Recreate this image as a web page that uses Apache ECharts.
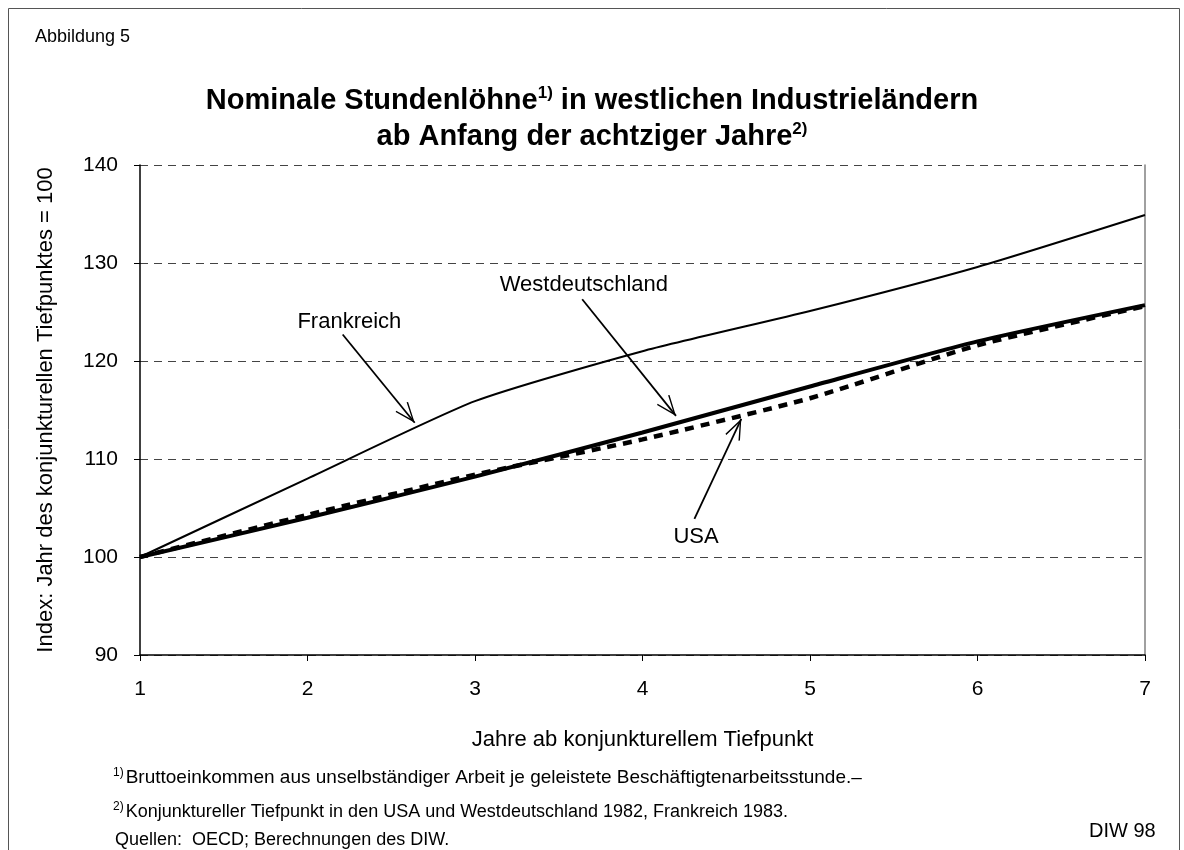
<!DOCTYPE html>
<html>
<head>
<meta charset="utf-8">
<script src="https://cdn.jsdelivr.net/npm/echarts@6/dist/echarts.min.js"></script>
<style>
    html, body { margin: 0; padding: 0; background: #fff; }
    #chart { width: 1184px; height: 850px; }
</style>
</head>
<body>
<div id="chart"></div>
<script>
    // Jahre ab konjunkturellem Tiefpunkt
    const years = [1, 2, 3, 4, 5, 6, 7];
    const xTicks = ['1', '2', '3', '4', '5', '6', '7'];
    // Index: Jahr des konjunkturellen Tiefpunktes = 100
    const frankreich = [100, 108.0, 115.9, 121.0, 125.1, 129.6, 134.9];
    const westdeutschland = [100, 104.0, 108.2, 112.7, 117.4, 122.0, 125.7];
    const usa = [100, 104.3, 108.4, 112.0, 116.2, 121.6, 125.6];

    // Beschriftungen mit Pfeilen (Datenkoordinaten)
    const labelFrankreich = { text: 'Frankreich', at: [2.25, 124.0], from: [2.21, 122.7], to: [2.64, 113.7] };
    const labelWest = { text: 'Westdeutschland', at: [3.65, 127.8], from: [3.64, 126.3], to: [4.20, 114.4] };
    const labelUsa = { text: 'USA', at: [4.32, 102.0], from: [4.31, 103.9], to: [4.59, 114.1] };

    const font = 'Liberation Sans, Arial, sans-serif';
    const arrowHead = 'path://M10,0 L20,24 L18.4,24.8 L10,4.4 L1.6,24.8 L0,24 Z';

    function pair(x, y) {
        return x.map(function (v, i) { return [v, y[i]]; });
    }

    function annotation(lbl) {
        return {
            markLine: {
                silent: true,
                animation: false,
                symbol: ['none', arrowHead],
                symbolSize: [16, 21],
                symbolOffset: [[0, 0], [0, 10.5]],
                label: { show: false },
                lineStyle: { color: '#000', width: 1.8, type: 'solid' },
                data: [[{ coord: lbl.from }, { coord: lbl.to }]]
            },
            markPoint: {
                silent: true,
                animation: false,
                symbolSize: 0,
                label: {
                    show: true,
                    formatter: lbl.text,
                    color: '#000',
                    fontFamily: font,
                    fontSize: 22,
                    position: 'inside'
                },
                data: [{ coord: lbl.at }]
            }
        };
    }

    let myChart = echarts.init(document.getElementById('chart'));
    myChart.setOption({
        animation: false,
        textStyle: { fontFamily: font },
        title: [{
            text: '{t|Nominale Stundenlöhne}{s|1)}{t| in westlichen Industrieländern}\n{t|ab Anfang der achtziger Jahre}{s|2)}',
            left: 'center',
            top: 78,
            textStyle: {
                rich: {
                    t: { fontFamily: font, fontSize: 29, fontWeight: 'bold', color: '#000', lineHeight: 36 },
                    s: { fontFamily: font, fontSize: 17, fontWeight: 'bold', color: '#000', padding: [0, 0, 16, 0], lineHeight: 36 }
                }
            }
        }],
        grid: {
            left: 140,
            right: 39,
            top: 165,
            bottom: 195
        },
        xAxis: {
            type: 'value',
            min: 1,
            max: 7,
            interval: 1,
            name: 'Jahre ab konjunkturellem Tiefpunkt',
            nameLocation: 'middle',
            nameGap: 74,
            nameTextStyle: { color: '#000', fontSize: 22, fontFamily: font },
            axisLine: { show: true, lineStyle: { color: '#000', width: 1.5 } },
            axisTick: { show: true, inside: false, length: 6, lineStyle: { color: '#000' } },
            axisLabel: {
                color: '#000',
                fontSize: 21,
                margin: 24,
                formatter: function (v) { return xTicks[years.indexOf(v)]; }
            },
            splitLine: { show: false }
        },
        yAxis: [{
            type: 'value',
            min: 90,
            max: 140,
            interval: 10,
            name: 'Index: Jahr des konjunkturellen Tiefpunktes = 100',
            nameLocation: 'middle',
            nameGap: 83,
            nameTextStyle: { color: '#000', fontSize: 22, fontFamily: font },
            axisLine: { show: true, lineStyle: { color: '#000', width: 1.5 } },
            axisTick: { show: true, inside: false, length: 6, lineStyle: { color: '#000' } },
            axisLabel: { color: '#000', fontSize: 21, margin: 22 },
            splitLine: { show: true, lineStyle: { color: '#444', width: 1, type: [8, 6] } }
        }, {
            type: 'value',
            min: 90,
            max: 140,
            interval: 10,
            position: 'right',
            axisLine: { show: true, lineStyle: { color: '#808080', width: 1.5 } },
            axisTick: { show: false },
            axisLabel: { show: false },
            splitLine: { show: false }
        }],
        series: [
            Object.assign({
                name: 'Frankreich',
                type: 'line',
                data: pair(years, frankreich),
                smooth: 0.2,
                showSymbol: false,
                lineStyle: { color: '#000', width: 2 }
            }, annotation(labelFrankreich)),
            Object.assign({
                name: 'USA',
                type: 'line',
                data: pair(years, usa),
                smooth: 0.2,
                showSymbol: false,
                lineStyle: { color: '#000', width: 4.5, type: [9, 7] }
            }, annotation(labelUsa)),
            Object.assign({
                name: 'Westdeutschland',
                type: 'line',
                data: pair(years, westdeutschland),
                smooth: 0.2,
                showSymbol: false,
                lineStyle: { color: '#000', width: 4 }
            }, annotation(labelWest))
        ],
        graphic: [
            {
                type: 'rect',
                shape: { x: 8.5, y: 8.5, width: 1171, height: 860 },
                style: { fill: 'none', stroke: '#555', lineWidth: 1 },
                silent: true
            },
            {
                type: 'text',
                left: 35,
                top: 28,
                style: { text: 'Abbildung 5', fill: '#000', font: '18px ' + font }
            },
            {
                type: 'text',
                left: 113,
                top: 767,
                style: {
                    text: '{s|1)}{t|Bruttoeinkommen aus unselbständiger Arbeit je geleistete Beschäftigtenarbeitsstunde.–}',
                    rich: {
                        s: { fontSize: 12, fontFamily: font, fill: '#000', padding: [0, 2, 10, 0] },
                        t: { fontSize: 19, fontFamily: font, fill: '#000' }
                    }
                }
            },
            {
                type: 'text',
                left: 113,
                top: 801,
                style: {
                    text: '{s|2)}{t|Konjunktureller Tiefpunkt in den USA und Westdeutschland 1982, Frankreich 1983.}',
                    rich: {
                        s: { fontSize: 12, fontFamily: font, fill: '#000', padding: [0, 2, 10, 0] },
                        t: { fontSize: 18, fontFamily: font, fill: '#000' }
                    }
                }
            },
            {
                type: 'text',
                left: 115,
                top: 831,
                style: { text: 'Quellen:  OECD; Berechnungen des DIW.', fill: '#000', font: '18px ' + font }
            },
            {
                type: 'text',
                left: 1089,
                top: 821,
                style: { text: 'DIW 98', fill: '#000', font: '20px ' + font }
            }
        ]
    });
</script>
</body>
</html>
